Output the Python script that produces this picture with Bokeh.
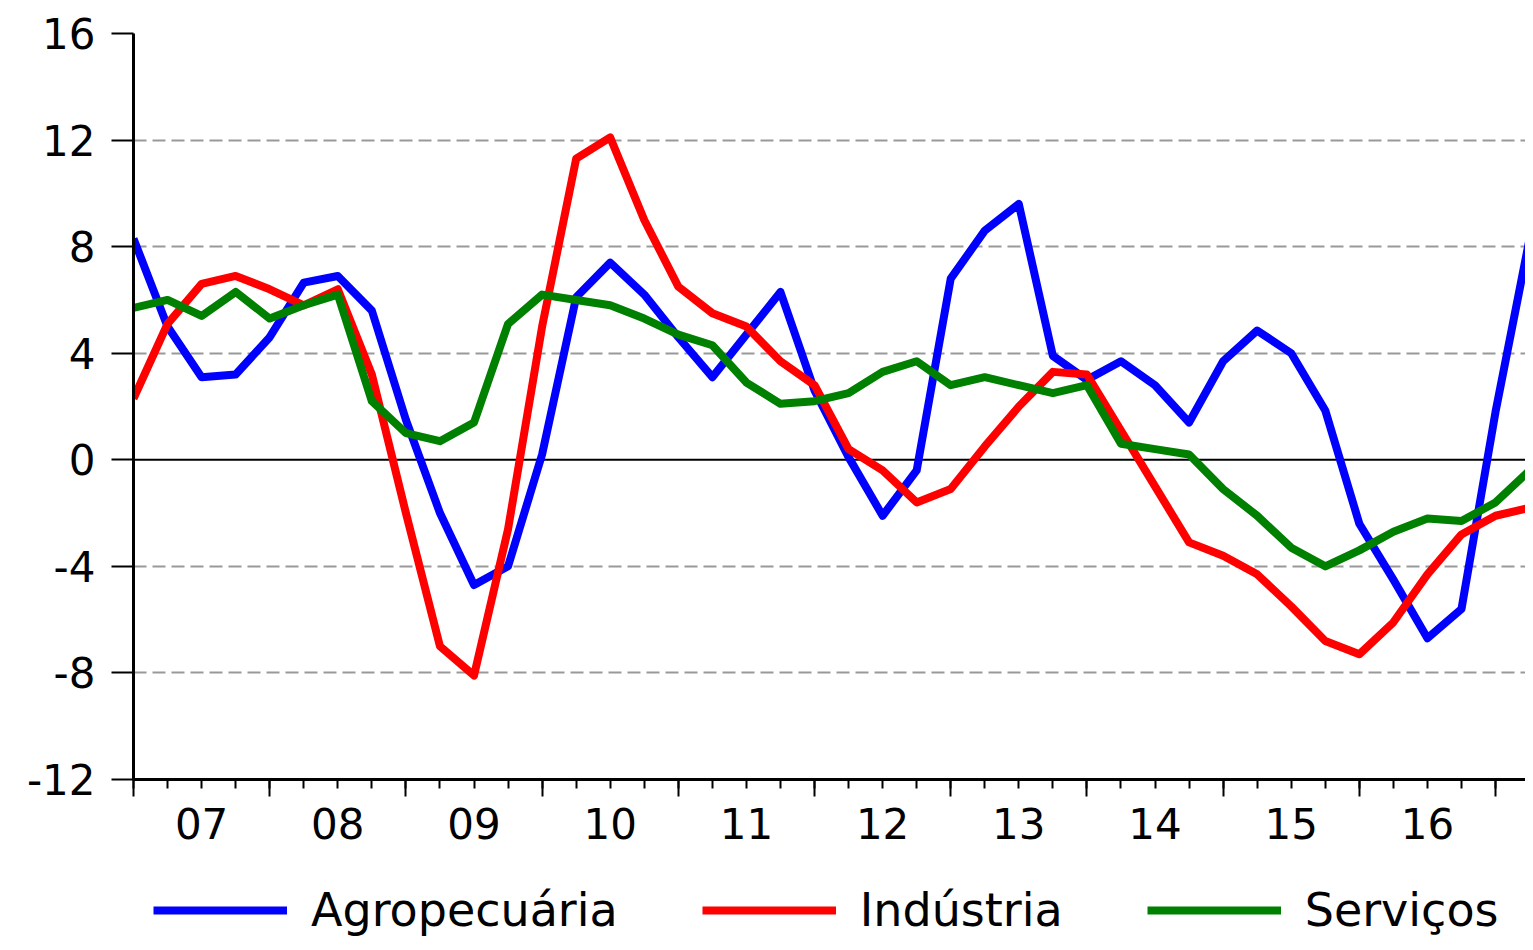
from bokeh.plotting import figure
from bokeh.layouts import column
from bokeh.models import LinearAxis, FixedTicker, Range1d, Span, Legend, LegendItem
from bokeh.embed import file_html
from bokeh.resources import INLINE

# ---- data (quarterly, 2007Q1 .. 2017Q2) ----
year_labels = ["07", "08", "09", "10", "11", "12", "13", "14", "15", "16"]
y_ticks = [-12, -8, -4, 0, 4, 8, 12, 16]
grid_levels = [-8, -4, 4, 8, 12]

agropecuaria = [8.3, 5.0, 3.1, 3.2, 4.6, 6.65, 6.9, 5.6,
                1.5, -2.0, -4.7, -4.0, 0.2, 6.1, 7.4, 6.2,
                4.6, 3.1, 4.7, 6.3, 2.6, 0.1, -2.1, -0.4,
                6.8, 8.6, 9.6, 3.9, 3.0, 3.7, 2.8, 1.4,
                3.7, 4.85, 4.0, 1.85, -2.4, -4.5, -6.7, -5.6,
                1.8, 8.3]
industria = [2.3, 5.1, 6.6, 6.9, 6.4, 5.8, 6.4, 3.2,
             -2.0, -7.0, -8.1, -2.6, 5.0, 11.3, 12.1, 9.0,
             6.5, 5.5, 5.0, 3.7, 2.8, 0.4, -0.4, -1.6,
             -1.1, 0.5, 2.0, 3.3, 3.2, 1.1, -1.0, -3.1,
             -3.6, -4.3, -5.5, -6.8, -7.3, -6.1, -4.3, -2.8,
             -2.1, -1.8]
servicos = [5.7, 6.0, 5.4, 6.3, 5.3, 5.8, 6.2, 2.2,
            1.0, 0.7, 1.4, 5.1, 6.2, 6.0, 5.8, 5.3,
            4.7, 4.3, 2.9, 2.1, 2.2, 2.5, 3.3, 3.7,
            2.8, 3.1, 2.8, 2.5, 2.8, 0.6, 0.4, 0.2,
            -1.1, -2.1, -3.3, -4.0, -3.4, -2.7, -2.2, -2.3,
            -1.6, -0.4]

series_names = ["Agropecuária", "Indústria", "Serviços"]
series_colors = ["#0000ff", "#ff0000", "#008000"]
series_values = [agropecuaria, industria, servicos]

n = len(agropecuaria)
x = list(range(n))
year_starts = [i for i in x if i % 4 == 0]
year_mids = [i + 2 for i in year_starts][:len(year_labels)]

FONT = "DejaVu Sans"
LW = 8

p = figure(width=1525, height=865, output_backend="svg", toolbar_location=None,
           x_range=Range1d(0, n - 1.12), y_range=Range1d(y_ticks[0], y_ticks[-1]),
           x_axis_type=None, min_border_left=133, min_border_right=0,
           min_border_top=33, min_border_bottom=86)
p.outline_line_color = None
p.background_fill_color = "white"
p.border_fill_color = "white"

# y axis
ya = p.yaxis[0]
ya.ticker = FixedTicker(ticks=y_ticks)
ya.major_label_overrides = {t: str(t) for t in y_ticks}
ya.axis_line_width = 3
ya.axis_line_color = "black"
ya.major_tick_out = 22
ya.major_tick_in = 0
ya.major_tick_line_width = 2
ya.minor_tick_line_color = None
ya.major_label_text_font = FONT
ya.major_label_text_font_size = "42px"
ya.major_label_text_color = "black"
ya.major_label_standoff = 16

# grid
p.ygrid[0].ticker = FixedTicker(ticks=grid_levels)
p.ygrid[0].grid_line_color = "#999999"
p.ygrid[0].grid_line_width = 2
p.ygrid[0].grid_line_dash = "13 6"

zero = Span(location=0, dimension="width", line_color="black", line_width=2, level="underlay")
p.add_layout(zero)

# x axis 1: ticks only
ax1 = LinearAxis(ticker=FixedTicker(ticks=year_starts, minor_ticks=x))
ax1.axis_line_width = 3
ax1.axis_line_color = "black"
ax1.major_tick_out = 17
ax1.major_tick_in = 0
ax1.minor_tick_out = 9
ax1.minor_tick_in = 0
ax1.major_tick_line_width = 2
ax1.minor_tick_line_width = 2
ax1.major_label_overrides = {t: "" for t in year_starts}
ax1.major_label_text_font_size = "1px"
ax1.major_label_standoff = 0
p.add_layout(ax1, "below")

# x axis 2: year labels
ax2 = LinearAxis(ticker=FixedTicker(ticks=year_mids, minor_ticks=[]))
ax2.axis_line_color = None
ax2.major_tick_line_color = None
ax2.minor_tick_line_color = None
ax2.major_tick_out = 0
ax2.major_tick_in = 0
ax2.major_label_overrides = {t: lab for t, lab in zip(year_mids, year_labels)}
ax2.major_label_text_font = FONT
ax2.major_label_text_font_size = "42px"
ax2.major_label_text_color = "black"
ax2.major_label_standoff = 11
p.add_layout(ax2, "below")

for vals, col in zip(series_values, series_colors):
    p.line(x, vals, line_color=col, line_width=LW, line_join="round")

# legend strip (its frame is aligned with the main plot's frame)
pl = figure(width=1525, height=77, output_backend="svg", toolbar_location=None,
            x_range=Range1d(0, 1), y_range=Range1d(100, 101),
            x_axis_type=None, y_axis_type=None,
            min_border_left=0, min_border_right=0, min_border_top=0, min_border_bottom=0)
pl.outline_line_color = None
pl.xgrid.visible = False
pl.ygrid.visible = False
leg_renderers = [pl.line(x, vals, line_color=col, line_width=LW, visible=False)
                 for vals, col in zip(series_values, series_colors)]

legend = Legend(items=[LegendItem(label=nm, renderers=[r]) for nm, r in zip(series_names, leg_renderers)],
                orientation="horizontal", location=(20, 5), click_policy="none",
                glyph_width=134, glyph_height=20, label_standoff=24, spacing=84,
                padding=0, margin=0, border_line_color=None, background_fill_alpha=0,
                label_text_font=FONT, label_text_font_size="46px", label_text_color="black")
pl.add_layout(legend, "center")

layout = column(p, pl, spacing=0)
open("out.html", "w").write(file_html(layout, INLINE))
